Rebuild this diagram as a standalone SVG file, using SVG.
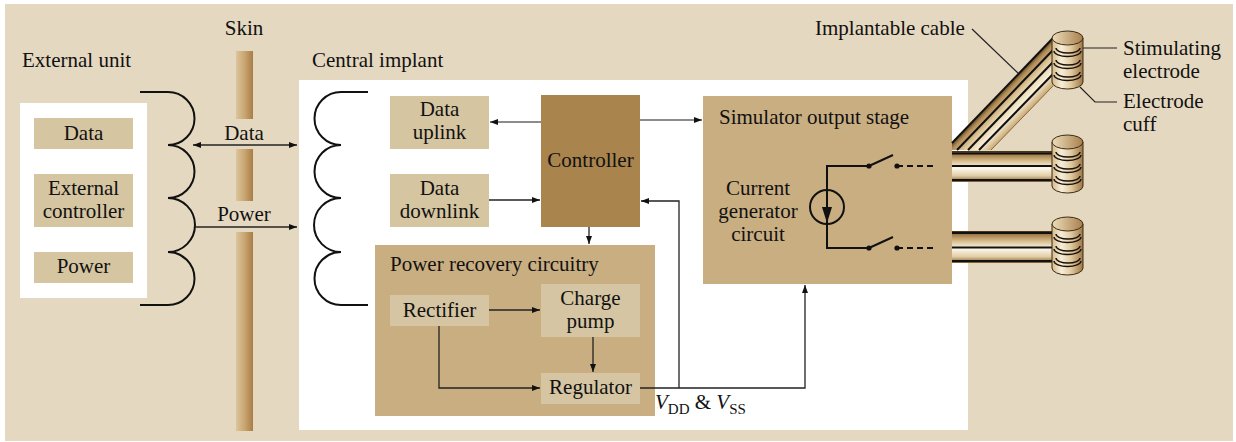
<svg xmlns="http://www.w3.org/2000/svg" width="1236" height="442" viewBox="0 0 1236 442">
  <defs>
    <style>
      text { font-family: "Liberation Serif", "Times New Roman", serif; font-size: 21px; fill: #111; }
      .mid { text-anchor: middle; }
      .blk { fill: #d6c5a1; }
      .grp { fill: #c9ae82; }
      .inner { fill: #d5c5a2; }
      .coil { fill: none; stroke: #111; stroke-width: 2; }
      .wire { fill: none; stroke: #222; stroke-width: 1.3; }
      .wireg { fill: none; stroke: #666; stroke-width: 1.6; }
      .lead { fill: none; stroke: #222; stroke-width: 1.2; }
      .cline { fill: none; stroke: #111; stroke-width: 2; }
      .band { fill: none; stroke: #111; stroke-width: 2; }
      .ring { fill: none; stroke: #1a1208; stroke-width: 1.4; }
    </style>
    <marker id="arr" viewBox="0 0 8 6" markerWidth="8" markerHeight="6" refX="8" refY="3" orient="auto-start-reverse" markerUnits="userSpaceOnUse">
      <path d="M0,0 L8,3 L0,6 z" fill="#111"/>
    </marker>
    <linearGradient id="skin" x1="0" y1="0" x2="1" y2="0">
      <stop offset="0" stop-color="#dcc59c"/>
      <stop offset="0.5" stop-color="#c9a673"/>
      <stop offset="1" stop-color="#a87d45"/>
    </linearGradient>
    <linearGradient id="hcable" x1="0" y1="0" x2="0" y2="1">
      <stop offset="0" stop-color="#3c2a12"/>
      <stop offset="0.1" stop-color="#9c7743"/>
      <stop offset="0.3" stop-color="#d4b886"/>
      <stop offset="0.55" stop-color="#fdf9ee"/>
      <stop offset="0.8" stop-color="#e2cda4"/>
      <stop offset="1" stop-color="#7a5a2e"/>
    </linearGradient>
    <linearGradient id="dcable" gradientUnits="userSpaceOnUse" x1="1000" y1="93" x2="1024" y2="116">
      <stop offset="0" stop-color="#5a4220"/>
      <stop offset="0.12" stop-color="#b08a53"/>
      <stop offset="0.4" stop-color="#e0c99c"/>
      <stop offset="0.7" stop-color="#f8efda"/>
      <stop offset="1" stop-color="#c9a874"/>
    </linearGradient>
    <linearGradient id="cylBody" x1="0" y1="0" x2="1" y2="0">
      <stop offset="0" stop-color="#d6ba88"/>
      <stop offset="0.3" stop-color="#f7eedb"/>
      <stop offset="0.6" stop-color="#e2cca2"/>
      <stop offset="1" stop-color="#9d7646"/>
    </linearGradient>
    <linearGradient id="cylTop" x1="0" y1="0" x2="1" y2="0">
      <stop offset="0" stop-color="#ecdcba"/>
      <stop offset="1" stop-color="#a9804d"/>
    </linearGradient>
    <!-- electrode cuff: cylinder with three contact rings -->
    <g id="cuff">
      <path d="M0,7 V51 A15.5,7 0 0 0 31,51 V7 Z" fill="url(#cylBody)" stroke="#3a2a14" stroke-width="1"/>
      <ellipse cx="15.5" cy="7" rx="15.5" ry="7" fill="url(#cylTop)" stroke="#3a2a14" stroke-width="1"/>
      <path class="ring" d="M4,17 A12,5 0 0 0 28,17"/>
      <path class="ring" d="M2,20 A13.5,5.5 0 0 0 29,20"/>
      <path class="ring" d="M4,29 A12,5 0 0 0 28,29"/>
      <path class="ring" d="M2,32 A13.5,5.5 0 0 0 29,32"/>
      <path class="ring" d="M4,41 A12,5 0 0 0 28,41"/>
      <path class="ring" d="M2,44 A13.5,5.5 0 0 0 29,44"/>
    </g>
  </defs>

  <!-- page -->
  <rect x="0" y="0" width="1236" height="442" fill="#ffffff"/>
  <rect x="5" y="4" width="1228" height="437" fill="#e5d8c0"/>

  <!-- skin layer -->
  <g id="skin-layer">
    <text class="mid" x="244" y="35">Skin</text>
    <rect x="236" y="51" width="17" height="68" fill="url(#skin)"/>
    <rect x="236" y="149" width="17" height="52" fill="url(#skin)"/>
    <rect x="236" y="232" width="17" height="199" fill="url(#skin)"/>
  </g>

  <!-- external unit -->
  <g id="external-unit">
    <text x="22" y="67">External unit</text>
    <rect x="20" y="103" width="127" height="195" fill="#ffffff"/>
    <g id="ext-data">
      <rect class="blk" x="34" y="118" width="99" height="31"/>
      <text class="mid" x="83.5" y="140">Data</text>
    </g>
    <g id="ext-controller">
      <rect class="blk" x="34" y="174" width="99" height="53"/>
      <text class="mid" x="83.5" y="195">External</text>
      <text class="mid" x="83.5" y="218">controller</text>
    </g>
    <g id="ext-power">
      <rect class="blk" x="34" y="252" width="99" height="31"/>
      <text class="mid" x="83.5" y="273">Power</text>
    </g>
    <path id="ext-coil" class="coil" d="M140,92 H168 A26.5,26.5 0 0 1 168,145 A26.5,26.5 0 0 1 168,198 A27,27 0 0 1 168,252 A26.5,26.5 0 0 1 168,305 H140"/>
  </g>

  <!-- central implant -->
  <g id="central-implant">
    <text x="312" y="67">Central implant</text>
    <rect x="299" y="80" width="669" height="350" fill="#ffffff"/>
    <path id="int-coil" class="coil" d="M368,92 H341 A26.5,26.5 0 0 0 341,145 A26.5,26.5 0 0 0 341,198 A27,27 0 0 0 341,252 A26.5,26.5 0 0 0 341,305 H368"/>
  </g>

  <g id="data-uplink">
    <rect class="blk" x="390" y="96" width="99" height="53"/>
    <text class="mid" x="439.5" y="116">Data</text>
    <text class="mid" x="439.5" y="139">uplink</text>
  </g>
  <g id="data-downlink">
    <rect class="blk" x="390" y="174" width="99" height="53"/>
    <text class="mid" x="439.5" y="195">Data</text>
    <text class="mid" x="439.5" y="218">downlink</text>
  </g>
  <g id="controller">
    <rect x="541" y="95" width="99" height="132" fill="#a9844d"/>
    <text class="mid" x="590.5" y="167">Controller</text>
  </g>

  <g id="power-recovery">
    <rect class="grp" x="375" y="245" width="280" height="171"/>
    <text x="390" y="271">Power recovery circuitry</text>
  </g>
  <g id="rectifier">
    <rect class="inner" x="390" y="295" width="99" height="31"/>
    <text class="mid" x="439.5" y="317">Rectifier</text>
  </g>
  <g id="charge-pump">
    <rect class="inner" x="541" y="284" width="99" height="53"/>
    <text class="mid" x="590.5" y="305">Charge</text>
    <text class="mid" x="590.5" y="328">pump</text>
  </g>
  <g id="regulator">
    <rect class="inner" x="541" y="373" width="99" height="31"/>
    <text class="mid" x="590.5" y="394">Regulator</text>
  </g>

  <g id="output-stage">
    <rect class="grp" x="703" y="96" width="249" height="188"/>
    <text x="719" y="124">Simulator output stage</text>
    <text class="mid" x="758" y="195">Current</text>
    <text class="mid" x="758" y="218">generator</text>
    <text class="mid" x="758" y="241">circuit</text>
    <!-- current source with two output switches -->
    <path class="cline" d="M869,166 H827 V248 H869"/>
    <circle cx="827" cy="207" r="17" fill="none" stroke="#111" stroke-width="2"/>
    <path d="M822,207 L827,223 L832,207 Z" fill="#111"/>
    <path class="cline" d="M869,166 L893,155 M869,248 L893,237"/>
    <circle cx="869" cy="166" r="2.6" fill="#111"/>
    <circle cx="897" cy="166" r="2.6" fill="#111"/>
    <circle cx="869" cy="248" r="2.6" fill="#111"/>
    <circle cx="897" cy="248" r="2.6" fill="#111"/>
    <path class="cline" d="M897,166 H935 M897,248 H935" stroke-dasharray="6,4"/>
  </g>

  <!-- cables and electrode cuffs -->
  <g id="implantable-cable">
    <polygon points="952,150 952,143 1053,38 1053,86 991,150" fill="url(#dcable)"/>
    <path class="band" d="M952,143 L1053,38" stroke="#5a4220" stroke-width="1.5"/>
    <path class="band" d="M957,150 L1053,50 M968,150 L1053,62 M979,150 L1053,74" stroke-width="2.2"/>
    <path d="M991,150 L1053,86" fill="none" stroke="#8a6a3c" stroke-width="1"/>

    <rect x="952" y="151" width="102" height="31" fill="url(#hcable)"/>
    <path class="band" d="M952,153.5 H1054 M952,166 H1054 M952,180 H1054" stroke-width="2.2"/>

    <rect x="952" y="231" width="102" height="32" fill="url(#hcable)"/>
    <path class="band" d="M952,233 H1054 M952,247.5 H1054 M952,261 H1054" stroke-width="2.2"/>
  </g>
  <g id="electrode-1"><use href="#cuff" x="1052" y="31"/></g>
  <g id="electrode-2"><use href="#cuff" x="1052" y="135"/></g>
  <g id="electrode-3"><use href="#cuff" x="1052" y="217"/></g>

  <g id="labels">
    <text x="815" y="35">Implantable cable</text>
    <path class="lead" d="M972,29 L1018,73"/>
    <text x="1123" y="55">Stimulating</text>
    <text x="1123" y="78">electrode</text>
    <path class="lead" d="M1083,48 H1117"/>
    <text x="1123" y="108">Electrode</text>
    <text x="1123" y="131">cuff</text>
    <path class="lead" d="M1080,87 L1095,102 H1117"/>
    <text x="655" y="409"><tspan font-style="italic">V</tspan><tspan font-size="15" dy="5">DD</tspan><tspan dy="-5"> &amp; </tspan><tspan font-style="italic">V</tspan><tspan font-size="15" dy="5">SS</tspan></text>
  </g>

  <!-- connectors -->
  <g id="connectors">
    <text class="mid" x="244" y="140">Data</text>
    <text class="mid" x="244" y="221">Power</text>
    <path class="wire" d="M193,145 H297" marker-start="url(#arr)" marker-end="url(#arr)"/>
    <path class="wire" d="M195,227 H297" marker-end="url(#arr)"/>
    <path class="wireg" d="M541,122 H490" marker-end="url(#arr)"/>
    <path class="wire" d="M489,200 H540" marker-end="url(#arr)"/>
    <path class="wireg" d="M640,120 H702" marker-end="url(#arr)"/>
    <path class="wire" d="M589,227 V244" marker-end="url(#arr)"/>
    <path class="wire" d="M489,310 H540" marker-end="url(#arr)"/>
    <path class="wire" d="M593,337 V372" marker-end="url(#arr)"/>
    <path class="wire" d="M439,326 V388 H540" marker-end="url(#arr)"/>
    <path class="wire" d="M640,388 H805 V285" marker-end="url(#arr)"/>
    <path class="wire" d="M679,388 V201 H641" marker-end="url(#arr)"/>
  </g>
</svg>
